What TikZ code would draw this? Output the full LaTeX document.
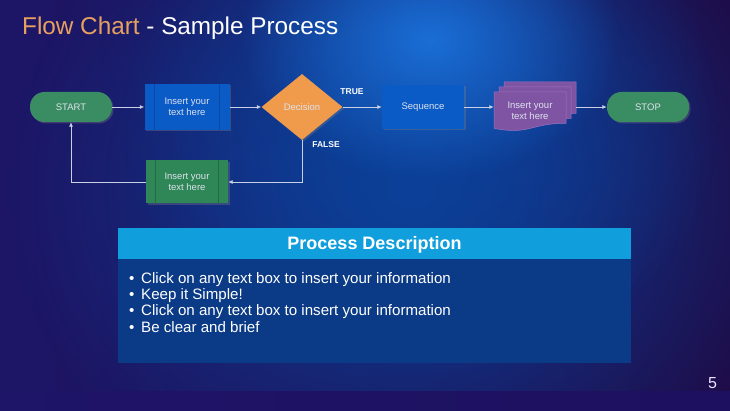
\documentclass[tikz,border=0pt]{standalone}
\usepackage{fontspec}
\setmainfont{Liberation Sans}
\usetikzlibrary{arrows.meta,shadows,fadings,shapes.geometric}

\definecolor{bgleft}{HTML}{1D1667}
\definecolor{bgright}{HTML}{1F0B46}
\definecolor{glowmid}{HTML}{0C4098}
\definecolor{glowhi}{HTML}{1A6ED6}
\definecolor{termgreen}{HTML}{3A8C62}
\definecolor{boxblue}{HTML}{0A5BC6}
\definecolor{boxblueline}{HTML}{0848A6}
\definecolor{decorange}{HTML}{F09A4C}
\definecolor{boxgreen}{HTML}{2F8656}
\definecolor{boxgreenline}{HTML}{246C44}
\definecolor{docpurple}{HTML}{7F55A3}
\definecolor{docedge}{HTML}{9A72BE}
\definecolor{linec}{HTML}{C8D2E4}
\definecolor{nodetext}{HTML}{DDE3EE}
\definecolor{titleorange}{HTML}{E8A060}
\definecolor{hdrblue}{HTML}{109FDC}
\definecolor{panelblue}{HTML}{0B3B86}
\definecolor{stripL}{HTML}{1E1468}
\definecolor{stripM}{HTML}{1A42A4}
\definecolor{stripR}{HTML}{1E1060}

\tikzfading[name=glowfade, inner color=transparent!0, outer color=transparent!100]

\newcommand\docpath[2]{%
  \filldraw[docsheet] (#1,#2) -- (#1+72,#2) -- (#1+72,#2+31.3)
    .. controls (#1+36,#2+31.3) and (#1+36,#2+43.2) .. (#1,#2+36.4) -- cycle;}

\begin{document}
\begin{tikzpicture}[x=1pt,y=-1pt,
  nodefont/.style={font=\fontsize{9.5}{11.5}\selectfont, text=nodetext, align=center},
  shadowed/.style={drop shadow={opacity=0.35, shadow xshift=1.5pt, shadow yshift=-1.5pt}},
  terminal/.style={nodefont, shadowed, fill=termgreen, rounded corners=14.5pt,
    minimum width=82pt, minimum height=30pt, inner sep=0pt},
  procbox/.style={nodefont, shadowed, minimum width=85pt, minimum height=46pt, inner sep=0pt},
  decision/.style={nodefont, shadowed, diamond, fill=decorange, minimum width=81pt,
    minimum height=66pt, inner sep=0pt},
  docsheet/.style={fill=docpurple, draw=docedge, line width=0.5pt},
  conn/.style={draw=linec, line width=0.75pt, -{Latex[length=4.5pt,width=4pt]}},
  branch/.style={font=\fontsize{8.5}{10}\selectfont\bfseries, text=white},
  bullet/.style={font=\fontsize{15.1}{16}\selectfont, text=white, anchor=base west, inner sep=0pt}
]
\useasboundingbox (0,0) rectangle (730,411);

% background
\shade[left color=bgleft, right color=bgright] (0,0) rectangle (730,411);
\begin{scope}
  \clip (0,0) rectangle (730,411);
  \fill[glowmid, path fading=glowfade] (410,190) ellipse (400 and 360);
  \fill[glowmid, path fading=glowfade] (420,120) ellipse (300 and 260);
  \fill[glowhi, path fading=glowfade] (430,40) ellipse (190 and 140);
\end{scope}
\shade[left color=stripL, middle color=stripM, right color=stripR] (0,391) rectangle (730,411);

% title
\node[anchor=base west, inner sep=0pt, font=\fontsize{24.3}{28}\selectfont, text=white]
  (title) at (22,34.5) {\textcolor{titleorange}{Flow Chart} - Sample Process};

% flow nodes
\node[terminal] (start) at (71,107) {START};
\node[procbox, fill=boxblue] (p1) at (187,107) {Insert your\\text here};
\draw[boxblueline, line width=1pt] ([xshift=10pt]p1.north west) -- ([xshift=10pt]p1.south west)
  ([xshift=-10pt]p1.north east) -- ([xshift=-10pt]p1.south east);
\node[decision] (dec) at (302,107) {Decision};
\node[procbox, fill=boxblue, minimum width=82pt, minimum height=44pt] (seq) at (423,107) {Sequence};

% multidocument
\begin{scope}[shadowed]
\docpath{504}{82}
\docpath{499}{87}
\docpath{494}{92}
\end{scope}
\node[minimum width=82pt, minimum height=48pt, inner sep=0pt] (mdoc) at (535,107) {};
\node[nodefont] (mdoctext) at (530,111) {Insert your\\text here};

\node[terminal] (stop) at (648,107) {STOP};

\node[procbox, fill=boxgreen, minimum width=82pt, minimum height=43pt] (p2) at (187,182) {Insert your\\text here};
\draw[boxgreenline, line width=1pt] ([xshift=10pt]p2.north west) -- ([xshift=10pt]p2.south west)
  ([xshift=-10pt]p2.north east) -- ([xshift=-10pt]p2.south east);

% connectors
\draw[conn] (start.east) -- (p1.west);
\draw[conn] (p1.east) -- (dec.west);
\draw[conn] (dec.east) -- (seq.west);
\draw[conn] (seq.east) -- (mdoc.west);
\draw[conn] (mdoc.east) -- (stop.west);
\draw[conn] (dec.south) |- (p2.east);
\draw[conn] (p2.west) -| (start.south);

\node[branch] (true) at (352,92) {TRUE};
\node[branch] (false) at (326,144.5) {FALSE};

% description panel
\node[fill=panelblue, minimum width=513pt, minimum height=104pt, inner sep=0pt] (body) at (374.5,311) {};
\node[fill=hdrblue, minimum width=513pt, minimum height=31pt, inner sep=0pt, anchor=south,
  text height=13pt, text depth=0pt,
  font=\fontsize{18}{20}\selectfont\bfseries, text=white] (hdr) at (body.north) {Process Description};

\node[bullet] (b1) at (129,283.3) {\makebox[12pt][l]{•}Click on any text box to insert your information};
\node[bullet] (b2) at (129,299.6) {\makebox[12pt][l]{•}Keep it Simple!};
\node[bullet] (b3) at (129,315.9) {\makebox[12pt][l]{•}Click on any text box to insert your information};
\node[bullet] (b4) at (129,332.2) {\makebox[12pt][l]{•}Be clear and brief};

% page number
\node[anchor=base, inner sep=0pt, font=\fontsize{16}{18}\selectfont, text=white!90!blue] (pnum) at (712.5,388) {5};
\end{tikzpicture}
\end{document}
